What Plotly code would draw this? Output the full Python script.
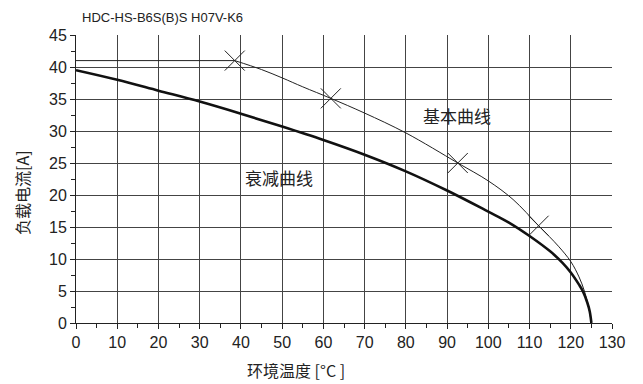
import plotly.graph_objects as go

# ---- data ----
base_x = [0, 38.5, 45, 50, 55, 61.8, 70, 80, 92.6, 100, 106, 112.2, 117, 120, 122, 123.3, 124.3, 125]
base_y = [41, 41, 39.6, 38.3, 36.9, 35.1, 32.8, 29.7, 25.0, 22.2, 19.3, 15.2, 12.0, 9.6, 7.2, 5.0, 2.6, 0]

mark_x = [38.5, 61.8, 92.6, 112.2]
mark_y = [41.0, 35.1, 25.0, 15.2]

derate_x = [0, 10, 20, 30, 40, 50, 60, 70, 80, 90, 100, 105, 110, 115, 118, 120, 122, 122.9, 124, 124.6, 125]
derate_y = [39.5, 38.0, 36.3, 34.6, 32.7, 30.7, 28.6, 26.3, 23.7, 20.7, 17.4, 15.7, 13.6, 11.2, 9.4, 7.9, 6.0, 5.0, 3.2, 1.8, 0]

x_ticks = [0, 10, 20, 30, 40, 50, 60, 70, 80, 90, 100, 110, 120, 130]
y_ticks = [0, 5, 10, 15, 20, 25, 30, 35, 40, 45]

title_text = "HDC-HS-B6S(B)S H07V-K6"
label_base = "基本曲线"
label_derate = "衰减曲线"
x_title = "环境温度 [°C ]"
y_title = "负载电流[A]"

NARROW = "Liberation Sans Narrow, Arial Narrow, sans-serif"
CJK = "Noto Sans CJK SC, sans-serif"

fig = go.Figure()
# flat part of the base curve
fig.add_trace(go.Scatter(x=base_x[:2], y=base_y[:2], mode="lines",
                         line=dict(color="#222", width=1),
                         hoverinfo="skip", showlegend=False))
# falling part of the base curve
fig.add_trace(go.Scatter(x=base_x[1:], y=base_y[1:], mode="lines",
                         line=dict(color="#222", width=1, shape="spline", smoothing=1.0),
                         hoverinfo="skip", showlegend=False))
fig.add_trace(go.Scatter(x=derate_x, y=derate_y, mode="lines",
                         line=dict(color="#111", width=2.6, shape="spline", smoothing=1.0),
                         hoverinfo="skip", showlegend=False))
fig.add_trace(go.Scatter(x=mark_x, y=mark_y, mode="markers",
                         marker=dict(symbol="x-thin", size=20, line=dict(color="#222", width=1)),
                         hoverinfo="skip", showlegend=False))

axis_common = dict(
    showline=True, linecolor="#222", linewidth=1, mirror=False,
    showgrid=True, gridcolor="#444", gridwidth=1,
    ticks="outside", ticklen=5, tickcolor="#222", tickwidth=1,
    tickfont=dict(family=NARROW, size=16, color="#222"),
    zeroline=False,
)

fig.update_xaxes(range=[0, 130], tickvals=x_ticks, ticktext=[str(v) for v in x_ticks],
                 minor=dict(dtick=5, tick0=0, ticks="outside", ticklen=4, tickcolor="#222", showgrid=False),
                 **axis_common)
fig.update_yaxes(range=[0, 45], tickvals=y_ticks, ticktext=[str(v) for v in y_ticks],
                 minor=dict(dtick=2.5, tick0=0, ticks="outside", ticklen=4, tickcolor="#222", showgrid=False),
                 **axis_common)

PW, PH = 536, 288  # plot area size in px
fig.add_annotation(text=title_text, xref="paper", yref="paper", x=4 / PW, y=1 + 18 / PH,
                   xanchor="left", yanchor="middle", showarrow=False,
                   font=dict(family=NARROW, size=13, color="#222"))
fig.add_annotation(text=label_base, x=92.5, y=32.5, showarrow=False,
                   font=dict(family=CJK, size=17, color="#222"))
fig.add_annotation(text=label_derate, x=49.2, y=22.8, showarrow=False,
                   font=dict(family=CJK, size=17, color="#222"))
fig.add_annotation(text=x_title, xref="paper", yref="paper", x=(296 - 76) / PW, y=-(370 - 323) / PH,
                   xanchor="center", yanchor="middle", showarrow=False,
                   font=dict(family=CJK, size=16, color="#222"))
fig.add_annotation(text=y_title, xref="paper", yref="paper", x=-(76 - 22) / PW, y=(323 - 193) / PH,
                   xanchor="center", yanchor="middle", showarrow=False, textangle=-90,
                   font=dict(family=CJK, size=16, color="#222"))

# page body has an 8px margin; the figure is offset by it inside the window
fig.update_layout(width=635, height=376,
                  margin=dict(l=68, r=31, t=27, b=61, autoexpand=False),
                  plot_bgcolor="white", paper_bgcolor="white")

fig.write_html("out.html")
